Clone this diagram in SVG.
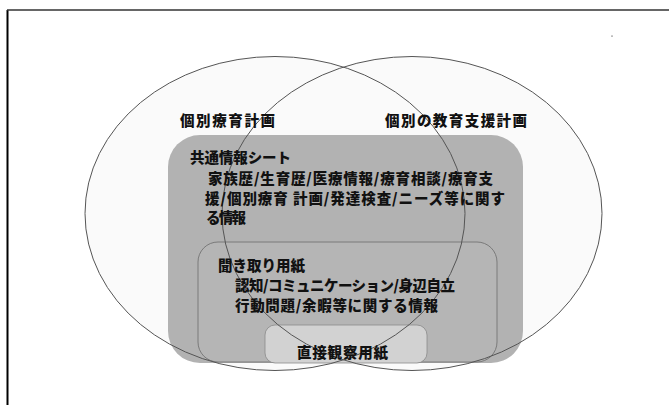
<svg xmlns="http://www.w3.org/2000/svg" width="669" height="405" viewBox="0 0 669 405">
  <style>
    .lbl { font-family: "Noto Sans CJK JP", "Noto Sans", sans-serif; font-weight: 900; font-size: 14.5px; fill: #111; }
    .ell-fill { fill: #fafafa; stroke: none; }
    .ell-line { fill: none; stroke: #555; stroke-width: 1; }
  </style>
  <rect x="0" y="0" width="669" height="405" fill="#ffffff"/>
  <!-- frame -->
  <g id="frame">
    <line x1="7.5" y1="10" x2="7.5" y2="405" stroke="#000" stroke-width="2"/>
    <line x1="7" y1="10" x2="669" y2="10" stroke="#333" stroke-width="1.3"/>
    <rect x="611.5" y="35.5" width="1" height="1.2" fill="#444"/>
  </g>
  <!-- ellipse fills -->
  <g id="ellipse-fills">
    <ellipse class="ell-fill" cx="275" cy="213.5" rx="190" ry="157"/>
    <ellipse class="ell-fill" cx="412" cy="213.5" rx="190" ry="157"/>
  </g>
  <g id="common-sheet">
    <rect x="168" y="135" width="355" height="228" rx="32" ry="32" fill="#b2b2b2"/>
  </g>
  <g id="interview-form">
    <rect x="198" y="242" width="299" height="120" rx="20" ry="20" fill="#b5b5b5" stroke="#7a7a7a" stroke-width="1"/>
  </g>
  <g id="observation-form">
    <rect x="265" y="325" width="162" height="38" rx="10" ry="10" fill="#d2d2d2" stroke="#8a8a8a" stroke-width="0.8"/>
  </g>
  <!-- ellipse outlines -->
  <g id="individual-care-plan">
    <ellipse class="ell-line" cx="275" cy="213.5" rx="190" ry="157"/>
  </g>
  <g id="individual-education-plan">
    <ellipse class="ell-line" cx="412" cy="213.5" rx="190" ry="157"/>
  </g>
  <g id="connectors"></g>
  <!-- labels -->
  <g id="labels">
    <text class="lbl" x="180" y="125.5" textLength="95" lengthAdjust="spacing">個別療育計画</text>
    <text class="lbl" x="385" y="125.5" textLength="142" lengthAdjust="spacing">個別の教育支援計画</text>
    <text class="lbl" x="190" y="162.5" textLength="101" lengthAdjust="spacing">共通情報シート</text>
    <text class="lbl" x="208" y="183.5" textLength="285" lengthAdjust="spacing">家族歴/生育歴/医療情報/療育相談/療育支</text>
    <text class="lbl" x="205" y="203.5" textLength="300" lengthAdjust="spacing">援/個別療育 計画/発達検査/ニーズ等に関す</text>
    <text class="lbl" x="206" y="222.5" textLength="40" lengthAdjust="spacing">る情報</text>
    <text class="lbl" x="218" y="270.5" textLength="87" lengthAdjust="spacing">聞き取り用紙</text>
    <text class="lbl" x="235" y="290.5" textLength="220" lengthAdjust="spacing">認知/コミュニケーション/身辺自立</text>
    <text class="lbl" x="235" y="310.5" textLength="203" lengthAdjust="spacing">行動問題/余暇等に関する情報</text>
    <text class="lbl" x="297" y="357.5" textLength="91" lengthAdjust="spacing">直接観察用紙</text>
  </g>
</svg>
